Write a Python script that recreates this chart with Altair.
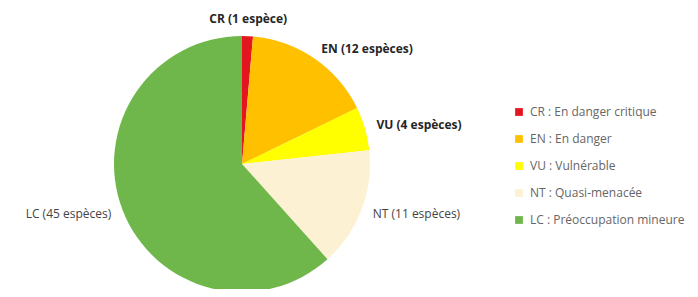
import altair as alt
import pandas as pd

codes = ["CR", "EN", "VU", "NT", "LC"]
counts = [1, 12, 4, 11, 45]
descriptions = ["En danger critique", "En danger", "Vulnérable", "Quasi-menacée", "Préoccupation mineure"]
colors = ["#e3161f", "#ffc000", "#ffff00", "#fdf1d3", "#6fb74a"]

legend_labels = [f"{c} : {d}" for c, d in zip(codes, descriptions)]
slice_labels = [f"{c} ({n} espèce{'s' if n > 1 else ''})" for c, n in zip(codes, counts)]

df = pd.DataFrame({
    "ordre": list(range(len(codes))),
    "code": codes,
    "n": counts,
    "legende": legend_labels,
    "label": slice_labels,
})

total = sum(counts)
theta_scale = alt.Scale(domain=[0, total])
CX, CY = 234, 156

pie = alt.Chart(df).mark_arc(radius=128, strokeWidth=0).encode(
    theta=alt.Theta("n:Q", stack=True, scale=theta_scale),
    order=alt.Order("ordre:Q"),
    x=alt.value(CX),
    y=alt.value(CY),
    color=alt.Color(
        "legende:N",
        scale=alt.Scale(domain=legend_labels, range=colors),
        sort=legend_labels,
        legend=alt.Legend(
            title=None,
            orient="none",
            legendX=505,
            legendY=98,
            symbolType="square",
            symbolSize=60,
            symbolStrokeWidth=0,
            labelFont="Open Sans",
            labelFontSize=12,
            labelColor="#666666",
            rowPadding=15,
            padding=0,
            labelOffset=5,
        ),
    ),
)

lab_base = alt.Chart(df).transform_window(
    cum="sum(n)", sort=[alt.SortField("ordre")], frame=[None, 0]
).transform_calculate(
    mid="datum.cum - datum.n / 2"
).encode(
    theta=alt.Theta("mid:Q", stack=None, scale=theta_scale),
    x=alt.value(CX),
    y=alt.value(CY),
    text="label:N",
)

bold = dict(font="Open Sans", fontSize=12, fontWeight="bold", color="#262626", baseline="middle")
plain = dict(font="Open Sans", fontSize=12, fontWeight="normal", color="#444444", baseline="middle")

lab_cr = lab_base.transform_filter(alt.datum.code == "CR").mark_text(
    radius=145, align="center", **bold
)
lab_en_vu = lab_base.transform_filter(
    alt.FieldOneOfPredicate(field="code", oneOf=["EN", "VU"])
).mark_text(radius=140, align="left", **bold)
lab_nt = lab_base.transform_filter(alt.datum.code == "NT").mark_text(
    radius=140, align="left", **plain
)
lab_lc = lab_base.transform_filter(alt.datum.code == "LC").mark_text(
    radius=140, align="right", **plain
)

chart = alt.layer(pie, lab_cr, lab_en_vu, lab_nt, lab_lc).properties(
    width=682,
    height=281,
    autosize=alt.AutoSizeParams(type="none"),
    padding=0,
).configure_view(stroke=None)

chart.save("out.html", embed_options={"renderer": "svg", "actions": False})
